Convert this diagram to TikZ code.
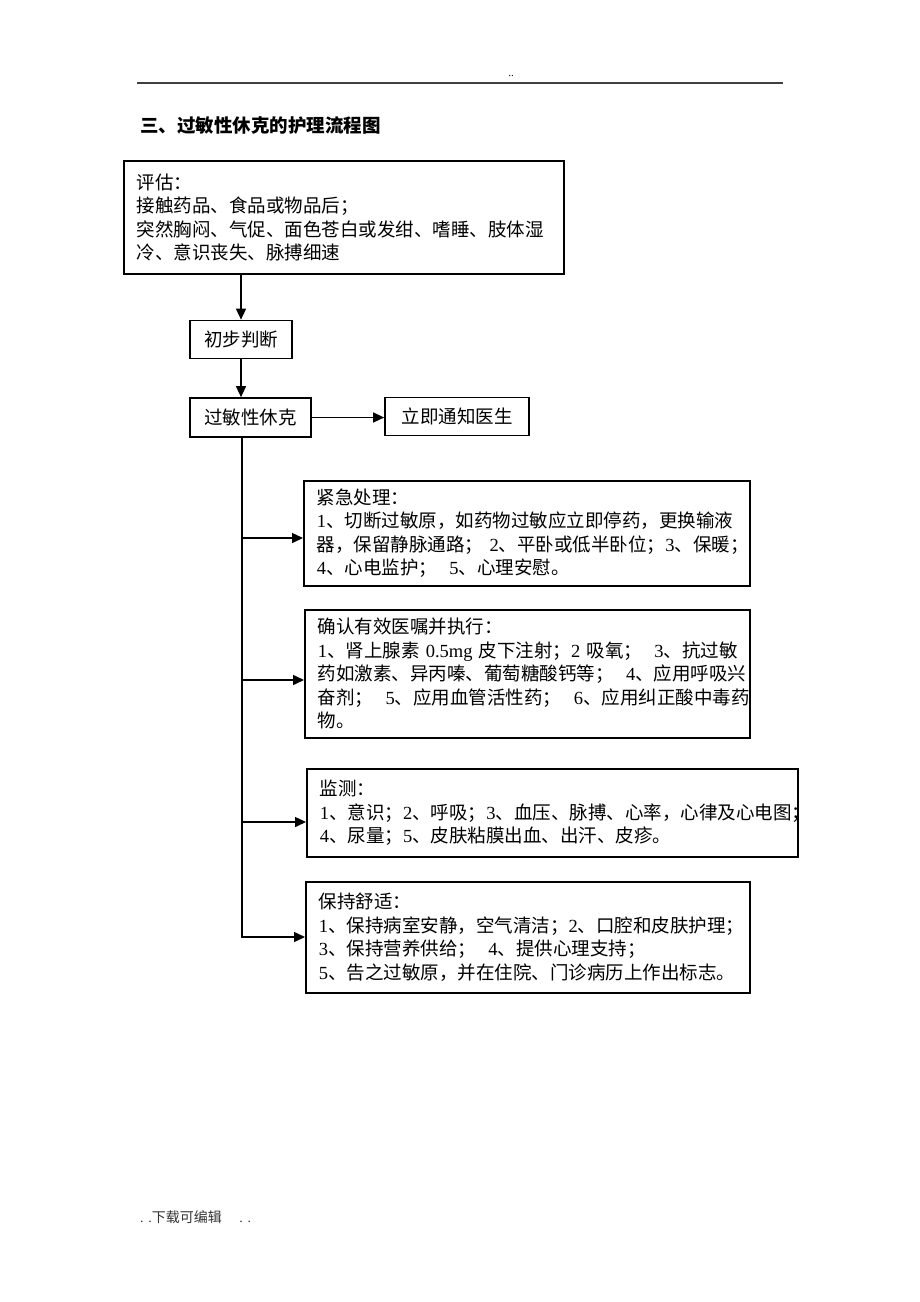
\documentclass[tikz,border=0pt]{standalone}
\usepackage{fontspec}
\setmainfont{Noto Sans CJK SC}
\newfontfamily\latf{Liberation Serif}
\newcommand\ltn[1]{{\latf #1}}
\usetikzlibrary{arrows.meta}
\begin{document}
\begin{tikzpicture}[x=1pt,y=-1pt,
  txtbox/.style={draw,line width=1.7pt,anchor=north west,align=left,inner xsep=13pt,inner ysep=0pt,font=\fontsize{18.5}{23.5}\selectfont},
  sbox/.style={draw,line width=1.7pt,rectangle,inner sep=0pt,font=\fontsize{18.5}{23.5}\selectfont},
  arr/.style={line width=1.5pt,-{Triangle[length=11pt,width=10pt]}},
  ln/.style={line width=1.5pt}]

\useasboundingbox[fill=white] (0,0) rectangle (920,1302);

% header
\coordinate (hl) at (137,83);
\coordinate (hr) at (783,83);
\draw[line width=1.3pt,black!75] (hl) -- (hr);
\node[inner sep=0pt,font=\fontsize{11}{11}\selectfont] (hdots) at (511,76) {\ltn{..}};

% title
\node[anchor=west,inner sep=0pt,font=\fontsize{18.5}{20}\selectfont\bfseries] (title) at (140,125) {三、过敏性休克的护理流程图};

% boxes
\node[txtbox,text width=414pt,minimum height=113pt] (assess) at (123,160)
 {\mbox{评估：}\\\mbox{接触药品、食品或物品后；}\\\mbox{突然胸闷、气促、面色苍白或发绀、嗜睡、肢体湿}\\\mbox{冷、意识丧失、脉搏细速}};

\node[sbox,minimum width=102pt,minimum height=38pt] (judge) at (241,339.5) {初步判断};
\node[sbox,minimum width=121pt,minimum height=39pt] (shock) at (250.5,417.5) {过敏性休克};
\node[sbox,minimum width=144pt,minimum height=38pt] (doctor) at (457,416.5) {立即通知医生};

\node[txtbox,text width=420pt,minimum height=105pt] (emerg) at (303,480)
 {\mbox{紧急处理：}\\\mbox{\ltn{1}、切断过敏原，如药物过敏应立即停药，更换输液}\\\mbox{器，保留静脉通路；\ltn{ 2}、平卧或低半卧位；\ltn{3}、保暖；}\\\mbox{\ltn{4}、心电监护；\ltn{\ \ 5}、心理安慰。}};

\node[txtbox,text width=419pt,minimum height=128pt] (orders) at (304,609)
 {\mbox{确认有效医嘱并执行：}\\\mbox{\ltn{1}、肾上腺素\ltn{ 0.5mg }皮下注射；\ltn{2 }吸氧；\ltn{\ \ 3}、抗过敏}\\\mbox{药如激素、异丙嗪、葡萄糖酸钙等；\ltn{\ \ 4}、应用呼吸兴}\\\mbox{奋剂；\ltn{\ \ 5}、应用血管活性药；\ltn{\ \ 6}、应用纠正酸中毒药}\\\mbox{物。}};

\node[txtbox,text width=465pt,minimum height=88pt] (monitor) at (306,768)
 {\mbox{监测：}\\\mbox{\ltn{1}、意识；\ltn{2}、呼吸；\ltn{3}、血压、脉搏、心率，心律及心电图；}\\\mbox{\ltn{4}、尿量；\ltn{5}、皮肤粘膜出血、出汗、皮疹。}};

\node[txtbox,text width=418pt,minimum height=111pt] (comfort) at (305,881)
 {\mbox{保持舒适：}\\\mbox{\ltn{1}、保持病室安静，空气清洁；\ltn{2}、口腔和皮肤护理；}\\\mbox{\ltn{3}、保持营养供给；\ltn{\ \ 4}、提供心理支持；}\\\mbox{\ltn{5}、告之过敏原，并在住院、门诊病历上作出标志。}};

% connectors
\draw[arr] (judge.north |- assess.south) -- (judge.north);
\draw[arr] (judge.south) -- (judge.south |- shock.north);
\draw[arr] (shock.east) -- (shock.east -| doctor.west);

\coordinate (top) at (242,437);
\coordinate (s5) at (242,538);
\coordinate (s6) at (242,680);
\coordinate (s7) at (242,822);
\coordinate (s8) at (242,937);
\draw[arr] (top) -- (s8) -- (s8 -| comfort.west);
\draw[arr] (s5) -- (s5 -| emerg.west);
\draw[arr] (s6) -- (s6 -| orders.west);
\draw[arr] (s7) -- (s7 -| monitor.west);

% footer
\node[anchor=west,inner sep=0pt,font=\fontsize{14}{16}\selectfont,text=black!80] (foot) at (140,1217) {\ltn{. .}下载可编辑\ltn{\ \ \ \ \ . .}};
\end{tikzpicture}
\end{document}
